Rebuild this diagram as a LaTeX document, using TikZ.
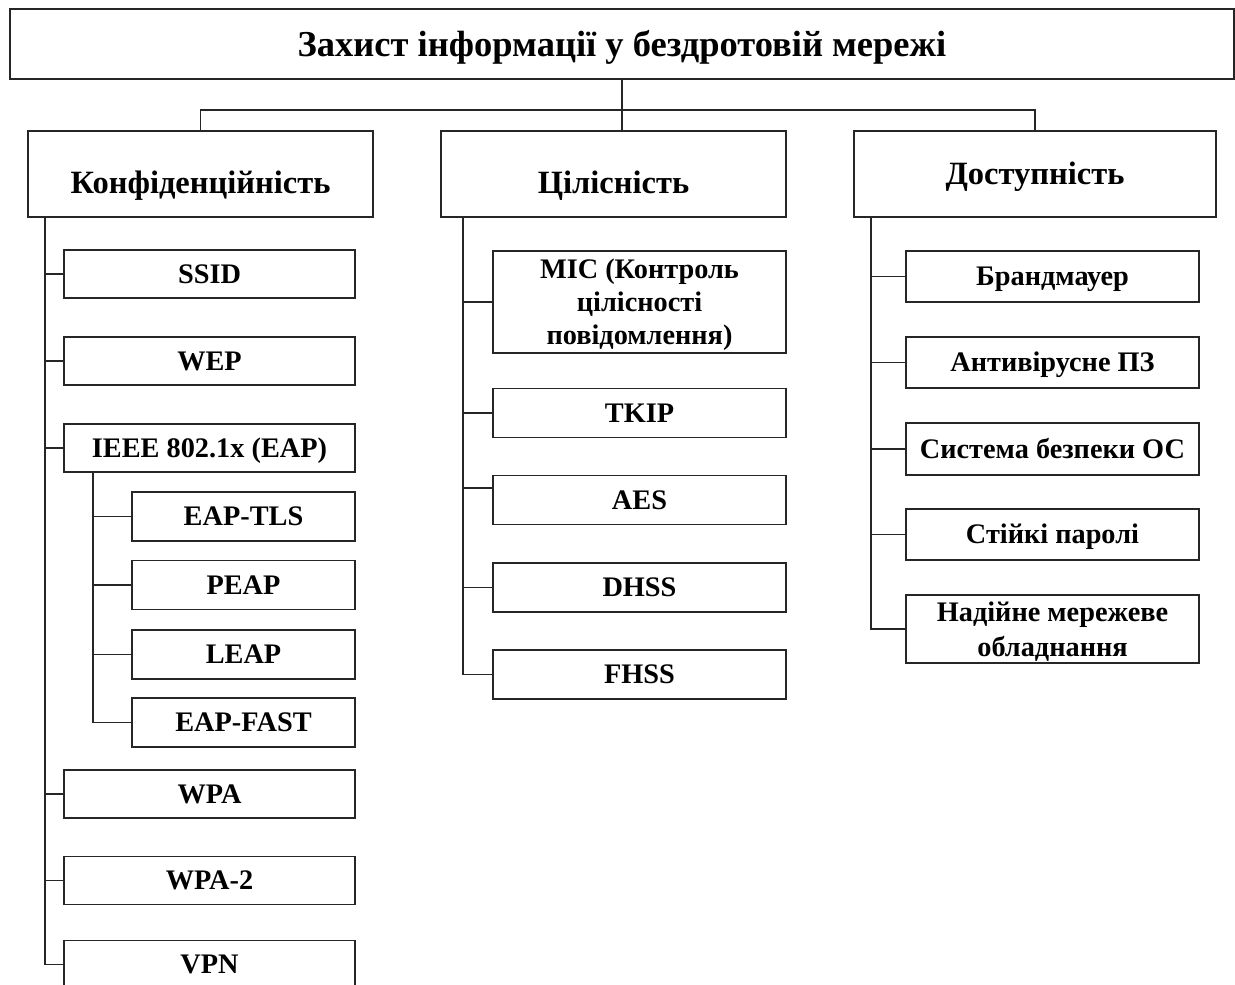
\documentclass[tikz,border=0pt]{standalone}
\usepackage{fontspec}
\setmainfont{Liberation Serif}
\begin{document}
\begin{tikzpicture}[x=1pt,y=-1pt,
  box/.style={draw=black!85, line width=1.2pt, fill=white, align=center,
              inner sep=0pt, text height=20.5pt, text depth=2pt,
              font=\bfseries\fontsize{28.3}{33}\selectfont},
  multi/.style={text height={}, text depth=0pt},
  head/.style={box, text height=23.5pt, text depth=2pt,
               font=\bfseries\fontsize{32.5}{38}\selectfont},
  link/.style={draw=black!85, line width=1.2pt}]
\useasboundingbox (0,0) rectangle (1235,985);

% top title
\node[box, text height=26pt, text depth=2pt,
      font=\bfseries\fontsize{36.5}{42}\selectfont,
      minimum width=1224pt, minimum height=70pt] (title) at (622,44)
  {Захист інформації у бездротовій мережі};

% three main groups
\node[head, minimum width=345pt, minimum height=86pt] (conf) at (200.5,174)
  {\raisebox{-9pt}[\height][\depth]{Конфіденційність}};
\node[head, minimum width=345pt, minimum height=86pt] (integ) at (613.5,174)
  {\raisebox{-9pt}[\height][\depth]{Цілісність}};
\node[head, minimum width=362pt, minimum height=86pt] (avail) at (1035,174)
  {Доступність};

% confidentiality items
\tikzset{lbox/.style={box, minimum width=291pt, minimum height=48pt}}
\node[lbox] (ssid) at (209.5,274) {SSID};
\node[lbox] (wep)  at (209.5,361) {WEP};
\node[lbox] (ieee) at (209.5,448) {IEEE 802.1x (EAP)};
\node[lbox] (wpa)  at (209.5,794) {WPA};
\node[lbox] (wpa2) at (209.5,880.5) {WPA-2};
\node[lbox] (vpn)  at (209.5,964.5) {VPN};

% EAP methods
\tikzset{ebox/.style={box, minimum width=223pt, minimum height=49pt}}
\node[ebox] (eaptls)  at (243.5,516.5) {EAP-TLS};
\node[ebox] (peap)    at (243.5,585)   {PEAP};
\node[ebox] (leap)    at (243.5,654.5) {LEAP};
\node[ebox] (eapfast) at (243.5,722.5) {EAP-FAST};

% integrity items
\tikzset{mbox/.style={box, minimum width=293pt, minimum height=49pt}}
\node[mbox, multi, minimum height=102pt] (mic) at (639.5,302)
  {MIC (Контроль\\цілісності\\повідомлення)};
\node[mbox] (tkip) at (639.5,413)   {TKIP};
\node[mbox] (aes)  at (639.5,500)   {AES};
\node[mbox] (dhss) at (639.5,587.5) {DHSS};
\node[mbox] (fhss) at (639.5,674.5) {FHSS};

% availability items
\tikzset{rbox/.style={box, minimum width=293pt, minimum height=51pt}}
\node[rbox] (fw)   at (1052.5,276.5) {Брандмауер};
\node[rbox] (av)   at (1052.5,362.5) {Антивірусне ПЗ};
\node[rbox, minimum height=52pt] (os) at (1052.5,449) {Система безпеки ОС};
\node[rbox] (pw)   at (1052.5,534.5) {Стійкі паролі};
\node[rbox, multi, minimum height=68pt, font=\bfseries\fontsize{28.3}{35}\selectfont]
  (net) at (1052.5,629) {Надійне мережеве\\обладнання};

% bus from the title to the three groups
\coordinate (bus) at (622,110);
\draw[link] (title.south) -- (title.south |- integ.north);
\draw[link] (bus) -| (conf.north);
\draw[link] (bus) -| (avail.north);

% confidentiality trunk
\coordinate (ct) at (45,217);
\draw[link] (ct) |- (vpn.west);
\foreach \n in {ssid,wep,ieee,wpa,wpa2} \draw[link] (ct) |- (\n.west);

% EAP sub-trunk
\coordinate (et) at (93,472);
\draw[link] (et) |- (eapfast.west);
\foreach \n in {eaptls,peap,leap} \draw[link] (et) |- (\n.west);

% integrity trunk
\coordinate (it) at (463,217);
\draw[link] (it) |- (fhss.west);
\foreach \n in {mic,tkip,dhss} \draw[link] (it) |- (\n.west);
\draw[link] (it) |- ([yshift=12pt]aes.west);

% availability trunk
\coordinate (at) at (871,217);
\draw[link] (at) |- (net.west);
\foreach \n in {fw,av,os,pw} \draw[link] (at) |- (\n.west);
\end{tikzpicture}
\end{document}
